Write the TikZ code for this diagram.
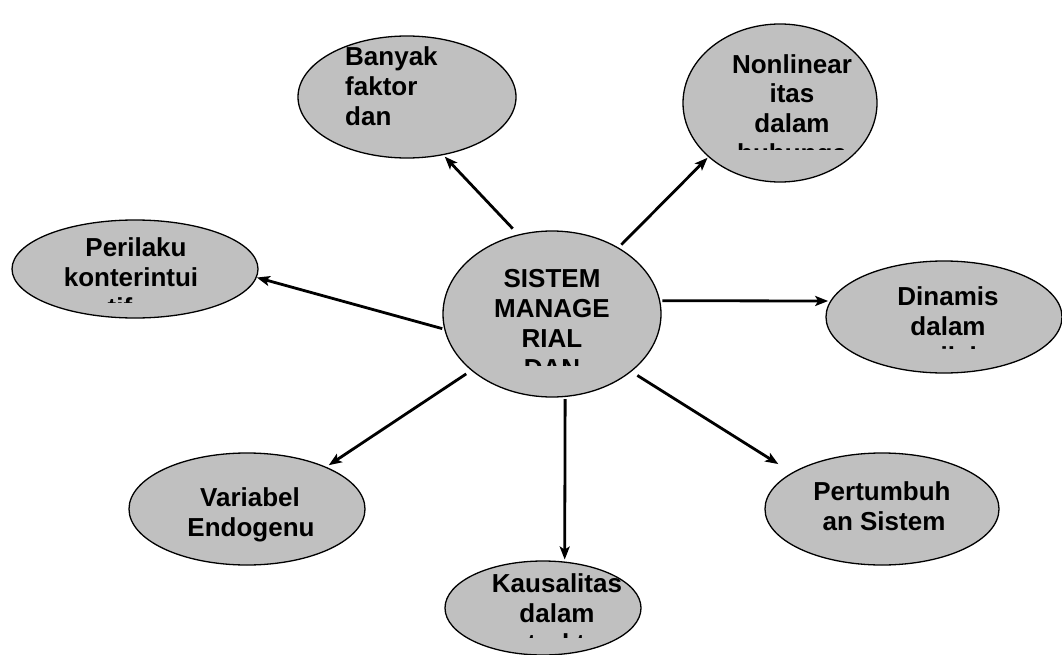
\documentclass[tikz,border=0pt]{standalone}
\usepackage{fontspec}
\setmainfont{Liberation Sans}
\usetikzlibrary{arrows.meta,shapes.geometric}

\definecolor{bubblegray}{RGB}{192,192,192}

\tikzset{
  bubble/.style={ellipse, draw=black, line width=1.3pt, fill=bubblegray, inner sep=0pt},
  txt/.style={font=\fontsize{26}{30}\selectfont\bfseries, inner sep=0pt, anchor=base},
  ltxt/.style={txt, anchor=base west},
  link/.style={line width=2.8pt, -{Stealth[length=13pt,width=10pt,inset=3pt]}}
}

\begin{document}
\begin{tikzpicture}[x=1pt,y=-1pt]
\useasboundingbox (0,0) rectangle (1062,655);

% ellipses
\node[bubble, minimum width=218pt, minimum height=166pt] (sys) at (552,314) {};
\node[bubble, minimum width=218pt, minimum height=122pt] (ban) at (407,97) {};
\node[bubble, minimum width=194pt, minimum height=158pt] (non) at (780,103) {};
\node[bubble, minimum width=246pt, minimum height=98pt]  (per) at (135,269) {};
\node[bubble, minimum width=236pt, minimum height=112pt] (din) at (944,317) {};
\node[bubble, minimum width=236pt, minimum height=112pt] (var) at (247,509) {};
\node[bubble, minimum width=234pt, minimum height=112pt] (tum) at (882,509) {};
\node[bubble, minimum width=196pt, minimum height=94pt]  (kau) at (543,608) {};

% centre text, last line cut off by the text frame
\begin{scope}
  \clip (440,228) rectangle (665,365);
  \node[txt] (sys1) at (552,287) {SISTEM};
  \node[txt] (sys2) at (552,317) {MANAGE};
  \node[txt] (sys3) at (552,347) {RIAL};
  \node[txt] (sys4) at (552,377) {DAN};
\end{scope}

\node[ltxt] (ban1) at (345,66) {Banyak};
\node[ltxt] (ban2) at (345,96) {faktor};
\node[ltxt] (ban3) at (345,126) {dan};

\begin{scope}
  \clip (680,20) rectangle (880,150);
  \node[txt] (non1) at (792,74) {Nonlinear};
  \node[txt] (non2) at (792,103) {itas};
  \node[txt] (non3) at (792,133) {dalam};
  \node[txt] (non4) at (792,163) {hubunga};
\end{scope}

\begin{scope}
  \clip (10,218) rectangle (260,302);
  \node[txt] (per1) at (136,256) {Perilaku};
  \node[txt] (per2) at (131,286) {konterintui};
  \node[txt] (per3) at (120,316) {tif};
\end{scope}

\begin{scope}
  \clip (825,258) rectangle (1062,348);
  \node[txt] (din1) at (948,305) {Dinamis};
  \node[txt] (din2) at (948,335) {dalam};
  \node[txt] (din3) at (950,365) {perilaku};
\end{scope}

\node[txt] (var1) at (250,506) {Variabel};
\node[txt] (var2) at (251,536) {Endogenu};

\node[txt] (tum1) at (882,500) {Pertumbuh};
\node[txt] (tum2) at (884,530) {an Sistem};

\begin{scope}
  \clip (440,558) rectangle (645,637);
  \node[txt] (kau1) at (557,592) {Kausalitas};
  \node[txt] (kau2) at (557,622) {dalam};
  \node[txt] (kau3) at (562,652) {struktur};
\end{scope}

% arrows from the centre outwards
\draw[link, shorten <=8pt, shorten >=2pt] (sys.113) -- (ban.-58);
\draw[link, shorten <=4pt, shorten >=1pt] (sys.45) -- (non.217);
\draw[link, shorten <=2pt] (sys.188) -- (per.-4);
\draw[link, shorten <=2pt, shorten >=2pt] (sys.7) -- (din.172);
\draw[link, shorten <=6pt, shorten >=3pt] (sys.215) -- (var.28);
\draw[link, shorten <=2pt, shorten >=2pt] (sys.-81) -- (kau.65);
\draw[link, shorten <=7pt, shorten >=16pt] (sys.-36) -- (tum.158);
\end{tikzpicture}
\end{document}
